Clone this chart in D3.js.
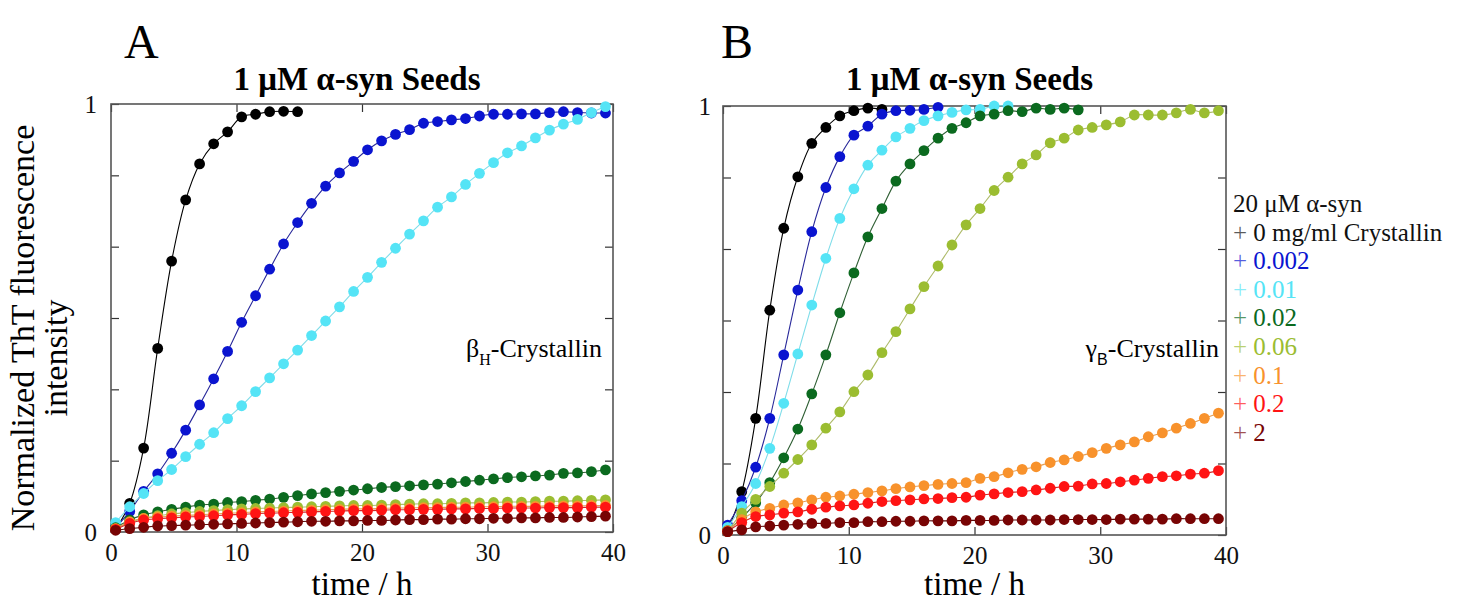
<!DOCTYPE html>
<html>
<head>
<meta charset="utf-8">
<script src="https://cdn.jsdelivr.net/npm/d3@7"></script>
<style>
  html, body { margin: 0; padding: 0; background: #fff; }
  svg { display: block; }
  svg text { font-family: "Liberation Serif", "Times New Roman", serif !important; }
  svg text tspan.sans { font-family: "Liberation Sans", Arial, sans-serif !important; }
</style>
</head>
<body>
<svg id="fig" width="1460" height="605"></svg>
<script>
// sampling times (h), same for both panels
const timeH = [0.37, 1.49, 2.60, 3.72, 4.83, 5.95, 7.06, 8.18, 9.29, 10.41, 11.52, 12.64,
  13.75, 14.87, 15.98, 17.10, 18.21, 19.33, 20.44, 21.56, 22.67, 23.79, 24.90, 26.02,
  27.13, 28.25, 29.36, 30.48, 31.59, 32.71, 33.82, 34.94, 36.05, 37.17, 38.28, 39.40];

const xTicks = [0, 10, 20, 30, 40];
const legendHead = ['20 \u03bcM \u03b1-syn', '+ 0 mg/ml Crystallin'];
const legendConc = ['+ 0.002', '+ 0.01', '+ 0.02', '+ 0.06', '+ 0.1', '+ 0.2', '+ 2'];

// marker / line colours, in drawing order: 0, 0.002, 0.01, 0.02, 0.06, 0.1, 0.2, 2 mg/ml
const dotColors  = ['#000000', '#0a14d0', '#55e4f6', '#0b6a1f', '#9bbd31', '#f8922c', '#ff1414', '#780404'];
const lineColors = ['#000000', '#28289a', '#7fdde9', '#2f5f34', '#aebb6a', '#e59d52', '#d02828', '#5c0a0a'];

// panel A: beta_H-crystallin
const a0    = [0.006, 0.067, 0.196, 0.429, 0.633, 0.776, 0.860, 0.907, 0.935, 0.970, 0.976, 0.982, 0.983, 0.982];
const a0002 = [0.010, 0.048, 0.095, 0.136, 0.184, 0.238, 0.297, 0.358, 0.422, 0.490, 0.552, 0.614, 0.673, 0.723,
  0.768, 0.808, 0.839, 0.866, 0.893, 0.914, 0.929, 0.940, 0.955, 0.959, 0.963, 0.966, 0.972, 0.976, 0.976, 0.977,
  0.977, 0.980, 0.982, 0.980, 0.979, 0.979];
const a001  = [0.022, 0.059, 0.090, 0.120, 0.146, 0.176, 0.205, 0.232, 0.265, 0.295, 0.328, 0.360, 0.393, 0.425,
  0.459, 0.493, 0.526, 0.562, 0.595, 0.630, 0.663, 0.696, 0.727, 0.759, 0.783, 0.812, 0.838, 0.863, 0.886, 0.902,
  0.921, 0.939, 0.953, 0.964, 0.980, 0.994];
const a002  = [0.010, 0.028, 0.040, 0.047, 0.053, 0.058, 0.063, 0.065, 0.069, 0.071, 0.074, 0.077, 0.081, 0.085,
  0.089, 0.092, 0.095, 0.098, 0.101, 0.104, 0.106, 0.108, 0.110, 0.112, 0.115, 0.118, 0.121, 0.124, 0.127, 0.129,
  0.131, 0.133, 0.137, 0.138, 0.141, 0.145];
const a006  = [0.008, 0.022, 0.032, 0.038, 0.042, 0.045, 0.048, 0.050, 0.052, 0.054, 0.055, 0.056, 0.057, 0.058,
  0.059, 0.060, 0.061, 0.062, 0.062, 0.063, 0.064, 0.065, 0.066, 0.066, 0.067, 0.068, 0.068, 0.069, 0.070, 0.070,
  0.071, 0.072, 0.072, 0.073, 0.074, 0.075];
const a01   = [0.008, 0.024, 0.032, 0.035, 0.037, 0.039, 0.040, 0.042, 0.044, 0.045, 0.047, 0.048, 0.049, 0.050,
  0.051, 0.052, 0.053, 0.054, 0.054, 0.055, 0.056, 0.056, 0.057, 0.057, 0.058, 0.058, 0.059, 0.059, 0.060, 0.060,
  0.060, 0.061, 0.061, 0.061, 0.062, 0.062];
const a02   = [0.006, 0.020, 0.028, 0.031, 0.033, 0.035, 0.036, 0.038, 0.040, 0.041, 0.043, 0.044, 0.045, 0.046,
  0.047, 0.048, 0.049, 0.050, 0.050, 0.051, 0.052, 0.052, 0.053, 0.053, 0.054, 0.054, 0.055, 0.055, 0.056, 0.056,
  0.056, 0.057, 0.057, 0.057, 0.058, 0.058];
const a2    = [0.004, 0.008, 0.011, 0.014, 0.015, 0.016, 0.017, 0.018, 0.019, 0.020, 0.021, 0.022, 0.023, 0.024,
  0.025, 0.025, 0.026, 0.026, 0.027, 0.027, 0.028, 0.029, 0.029, 0.030, 0.030, 0.031, 0.031, 0.032, 0.032, 0.033,
  0.033, 0.034, 0.034, 0.035, 0.036, 0.037];

// panel B: gamma_B-crystallin
const b0    = [0.010, 0.101, 0.272, 0.524, 0.715, 0.835, 0.913, 0.950, 0.977, 0.989, 0.995, 0.992];
const b0002 = [0.023, 0.080, 0.158, 0.272, 0.420, 0.571, 0.707, 0.810, 0.882, 0.932, 0.953, 0.981, 0.989, 0.990,
  0.992, 0.997];
const b001  = [0.018, 0.066, 0.120, 0.202, 0.307, 0.422, 0.536, 0.645, 0.738, 0.807, 0.862, 0.897, 0.928, 0.948,
  0.966, 0.977, 0.985, 0.991, 0.992, 1.000, 1.000];
const b002  = [0.010, 0.040, 0.075, 0.122, 0.180, 0.247, 0.329, 0.420, 0.518, 0.611, 0.695, 0.761, 0.825, 0.865,
  0.896, 0.925, 0.948, 0.961, 0.977, 0.981, 0.989, 0.987, 0.995, 0.992, 0.995, 0.991];
const b006  = [0.008, 0.051, 0.083, 0.113, 0.144, 0.176, 0.210, 0.249, 0.287, 0.334, 0.373, 0.425, 0.474, 0.527,
  0.579, 0.627, 0.676, 0.723, 0.761, 0.803, 0.834, 0.865, 0.886, 0.914, 0.925, 0.944, 0.950, 0.956, 0.963, 0.979,
  0.979, 0.979, 0.984, 0.992, 0.984, 0.989];
const b01   = [0.010, 0.036, 0.054, 0.062, 0.070, 0.075, 0.082, 0.088, 0.091, 0.095, 0.099, 0.103, 0.108, 0.112,
  0.115, 0.118, 0.120, 0.122, 0.132, 0.136, 0.145, 0.153, 0.159, 0.169, 0.175, 0.183, 0.192, 0.202, 0.210, 0.217,
  0.229, 0.238, 0.249, 0.260, 0.272, 0.284];
const b02   = [0.008, 0.029, 0.043, 0.047, 0.051, 0.054, 0.060, 0.065, 0.068, 0.070, 0.074, 0.078, 0.080, 0.082,
  0.084, 0.085, 0.087, 0.088, 0.093, 0.096, 0.099, 0.101, 0.105, 0.109, 0.113, 0.114, 0.119, 0.120, 0.124, 0.128,
  0.132, 0.136, 0.138, 0.142, 0.144, 0.150];
const b2    = [0.008, 0.012, 0.019, 0.021, 0.023, 0.025, 0.027, 0.027, 0.029, 0.029, 0.031, 0.031, 0.032, 0.032,
  0.033, 0.033, 0.033, 0.034, 0.034, 0.034, 0.035, 0.035, 0.035, 0.035, 0.036, 0.036, 0.036, 0.036, 0.037, 0.037,
  0.037, 0.037, 0.038, 0.038, 0.038, 0.038];

const svg = d3.select('#fig');

function drawPanel(cfg) {
  const x = d3.scaleLinear().domain([0, 40]).range([cfg.left, cfg.right]);
  const y = d3.scaleLinear().domain([0, 1]).range([cfg.bottom, cfg.top]);
  const yTicks = d3.range(7).map(i => i / 6);
  const g = svg.append('g');

  // panel letter and title
  g.append('text').attr('x', cfg.letterX).attr('y', 58).attr('font-size', 48).text(cfg.letter);
  g.append('text').attr('x', (cfg.left + cfg.right) / 2 - 5).attr('y', 90)
    .attr('text-anchor', 'middle').attr('font-size', 33).attr('font-weight', 'bold')
    .text('1 \u03bcM \u03b1-syn Seeds');

  // axes, ticks pointing inwards on all four sides
  const fmtY = d => d === 0 ? '0' : (Math.abs(d - 1) < 1e-6 ? '1' : '');
  const axB = g.append('g').attr('transform', `translate(0,${cfg.bottom})`)
    .call(d3.axisBottom(x).tickValues(xTicks).tickSizeInner(-8).tickSizeOuter(0).tickPadding(11));
  const axT = g.append('g').attr('transform', `translate(0,${cfg.top})`)
    .call(d3.axisTop(x).tickValues(xTicks).tickSizeInner(-8).tickSizeOuter(0).tickFormat(''));
  const axL = g.append('g').attr('transform', `translate(${cfg.left},0)`)
    .call(d3.axisLeft(y).tickValues(yTicks).tickSizeInner(-8).tickSizeOuter(0).tickPadding(cfg.yPad).tickFormat(fmtY));
  const axR = g.append('g').attr('transform', `translate(${cfg.right},0)`)
    .call(d3.axisRight(y).tickValues(yTicks).tickSizeInner(-8).tickSizeOuter(0).tickFormat(''));
  [axB, axT, axL, axR].forEach(a => {
    a.select('.domain').remove();
    a.attr('font-size', 25);
    a.selectAll('line').attr('stroke', '#333').attr('stroke-width', 1.2);
    a.selectAll('text').attr('fill', '#111');
  });

  g.append('rect').attr('x', cfg.left).attr('y', cfg.top)
    .attr('width', cfg.right - cfg.left).attr('height', cfg.bottom - cfg.top)
    .attr('fill', 'none').attr('stroke', '#555').attr('stroke-width', 1.6);

  g.append('text').attr('x', (cfg.left + cfg.right) / 2).attr('y', 595)
    .attr('text-anchor', 'middle').attr('font-size', 33).text('time / h');

  // curves and markers
  const line = d3.line().x(d => x(d[0])).y(d => y(d[1])).curve(d3.curveCatmullRom.alpha(0.5));
  cfg.series.forEach((vals, i) => {
    const pts = vals.map((v, k) => [timeH[k], v]);
    g.append('path').datum(pts).attr('d', line)
      .attr('fill', 'none').attr('stroke', lineColors[i]).attr('stroke-width', 1.1);
    g.append('g').selectAll('circle').data(pts).join('circle')
      .attr('cx', d => x(d[0])).attr('cy', d => y(d[1])).attr('r', 5.4)
      .attr('fill', dotColors[i]);
  });

  // crystallin label
  const lab = g.append('text').attr('x', cfg.labelX).attr('y', 357)
    .attr('text-anchor', 'end').attr('font-size', 26);
  lab.append('tspan').text(cfg.greek);
  lab.append('tspan').attr('dy', 8).attr('font-size', 16).attr('class', cfg.subClass).text(cfg.sub);
  lab.append('tspan').attr('dy', -8).text('-Crystallin');
}

drawPanel({
  letter: 'A', letterX: 124, left: 111, right: 613, top: 104, bottom: 532, yPad: 14,
  series: [a0, a0002, a001, a002, a006, a01, a02, a2],
  greek: '\u03b2', sub: 'H', subClass: '', labelX: 602
});
drawPanel({
  letter: 'B', letterX: 721, left: 723, right: 1226, top: 106, bottom: 535, yPad: 12,
  series: [b0, b0002, b001, b002, b006, b01, b02, b2],
  greek: '\u03b3', sub: 'B', subClass: 'sans', labelX: 1219
});

// y axis title (two lines)
svg.append('text').attr('transform', 'translate(34,328) rotate(-90)')
  .attr('text-anchor', 'middle').attr('font-size', 34).text('Normalized ThT fluorescence');
svg.append('text').attr('transform', 'translate(67,358) rotate(-90)')
  .attr('text-anchor', 'middle').attr('font-size', 34).text('intensity');

// legend: the "+" is drawn a little paler than the number
const legColors = ['#111', '#111'].concat(dotColors.slice(1));
const legLabels = legendHead.concat(legendConc);
const leg = svg.append('g').selectAll('text').data(legLabels).join('text')
  .attr('x', 1233).attr('y', (d, i) => 212 + i * 28.6)
  .attr('font-size', 25).attr('fill', (d, i) => legColors[i]);
leg.each(function (d) {
  const t = d3.select(this);
  if (d.startsWith('+ ')) {
    t.append('tspan').attr('fill-opacity', 0.7).text('+ ');
    t.append('tspan').text(d.slice(2));
  } else {
    t.text(d);
  }
});
</script>
</body>
</html>
